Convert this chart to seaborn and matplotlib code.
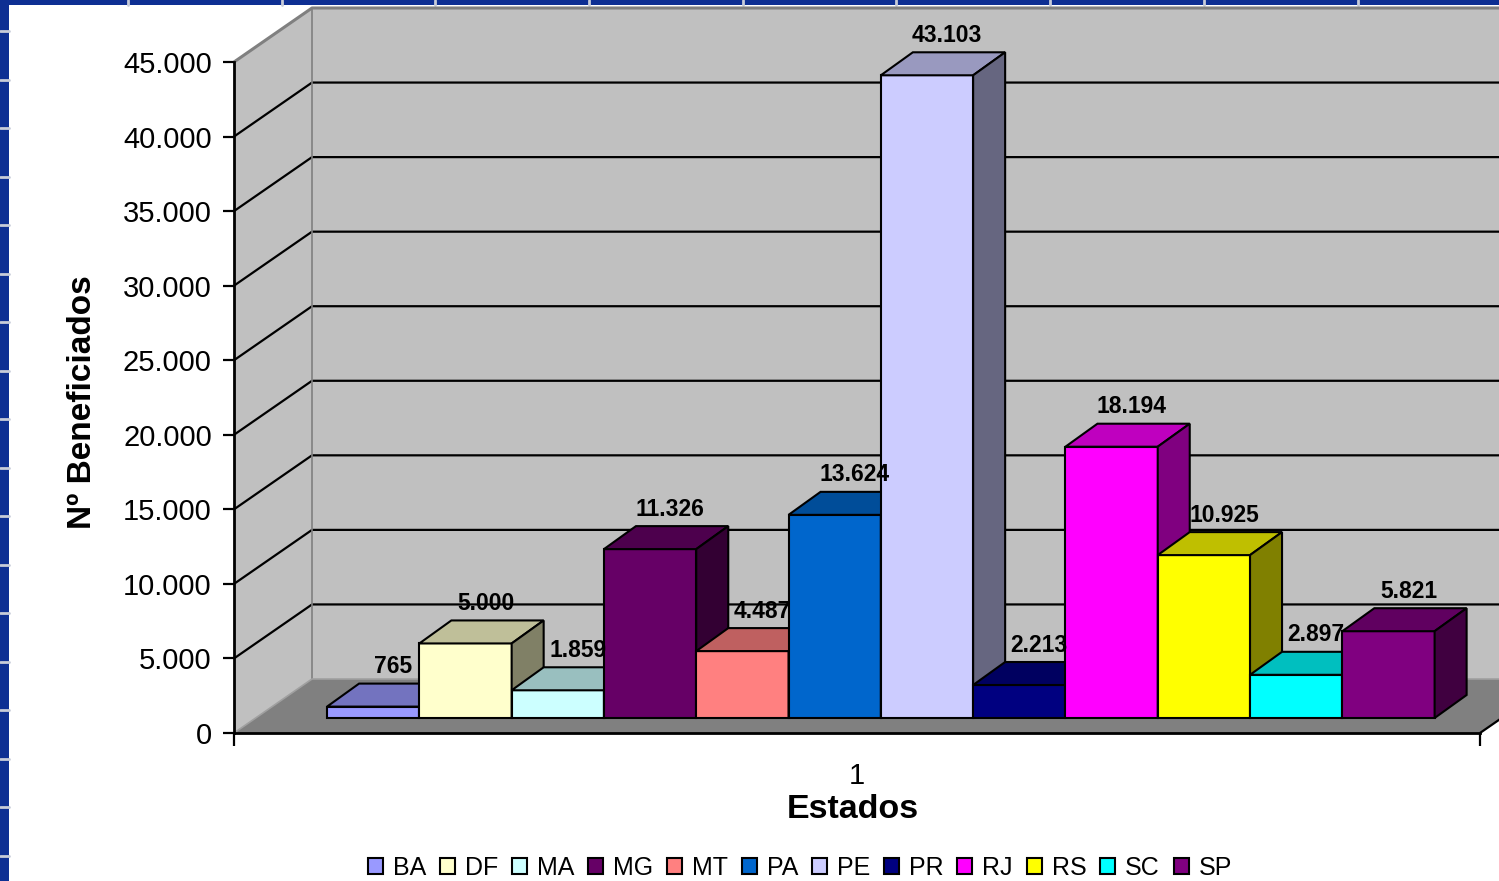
import numpy as np
import pandas as pd
import matplotlib
matplotlib.use("Agg")
import matplotlib.pyplot as plt
import matplotlib.transforms as mtransforms
from matplotlib.patches import Polygon, Patch, Rectangle
from matplotlib.lines import Line2D
from matplotlib.colors import to_rgb
import seaborn as sns

# =====================================================
# Data
# =====================================================
estados = ["BA", "DF", "MA", "MG", "MT", "PA", "PE", "PR", "RJ", "RS", "SC", "SP"]
beneficiados = [765, 5000, 1859, 11326, 4487, 13624, 43103, 2213, 18194, 10925, 2897, 5821]
cores = ["#9999FF", "#FFFFCC", "#CCFFFF", "#660066", "#FF8080", "#0066CC",
         "#CCCCFF", "#000080", "#FF00FF", "#FFFF00", "#00FFFF", "#800080"]
y_ticks = list(range(0, 45001, 5000))
x_label_cat = "1"

df = pd.DataFrame({"estado": estados, "n": beneficiados})


def fmt(v):
    return f"{v:,.0f}".replace(",", ".")


def shade(c, f):
    r, g, b = to_rgb(c)
    return (r * f, g * f, b * f)


# =====================================================
# Layout (pixels)
# =====================================================
W, H, DPI = 1499, 881, 100
AX_L, AX_R, AX_T, AX_B = 234, 1480, 62, 733
X0, X1 = -1.27, 12.23
Y0, Y1 = 0, 45000
px_x = (AX_R - AX_L) / (X1 - X0)
px_y = (AX_B - AX_T) / (Y1 - Y0)
WALL_D = (78, 54)     # depth of the walls/floor
BAR_OFF = (22, 15)    # bars sit a little behind the front plane
BAR_D = (32, 23)      # depth of each bar
LBL_OFF = (20, 40)    # data label offset from bar top

sns.set_theme(style="white")
plt.rcParams["font.family"] = ["Liberation Sans", "DejaVu Sans"]
plt.rcParams["text.color"] = "black"

fig = plt.figure(figsize=(W / DPI, H / DPI), dpi=DPI)
fig.patch.set_facecolor("#0E2F93")
fig.add_artist(Rectangle((9 / W, 0), 1 - 9 / W, (H - 5) / H, transform=fig.transFigure,
                         fc="white", ec="none", zorder=-10))
for yy in np.arange(31, H, 48.5):
    fig.add_artist(Line2D([0, 9 / W], [1 - yy / H] * 2, transform=fig.transFigure,
                          color="#C8CCD8", lw=2, zorder=-9))
for xx in np.arange(128, W, 153.7):
    fig.add_artist(Line2D([xx / W] * 2, [1 - 5 / H, 1], transform=fig.transFigure,
                          color="#C8CCD8", lw=2, zorder=-9))

ax = fig.add_axes([AX_L / W, (H - AX_B) / H, (AX_R - AX_L) / W, (AX_B - AX_T) / H])
ax.set_facecolor("none")

# =====================================================
# Bars (front faces)
# =====================================================
sns.barplot(data=df, x="estado", y="n", hue="estado", palette=cores, width=1,
            saturation=1, edgecolor="black", linewidth=1.5, legend=False, ax=ax)
bars = [p for p in ax.patches if isinstance(p, Rectangle)]
bars = sorted(bars, key=lambda p: p.get_x())

ax.set_xlim(X0, X1)
ax.set_ylim(Y0, Y1)

bar_tr = ax.transData + mtransforms.ScaledTranslation(BAR_OFF[0] / DPI, BAR_OFF[1] / DPI,
                                                      fig.dpi_scale_trans)

# =====================================================
# Walls, floor and gridlines
# =====================================================
DX, DY = WALL_D[0] / px_x, WALL_D[1] / px_y
wall_kw = dict(clip_on=False, ec="none")
ax.add_patch(Polygon([(X0 + DX, DY), (X1 + DX, DY), (X1 + DX, Y1 + DY), (X0 + DX, Y1 + DY)],
                     fc="#C0C0C0", zorder=0.5, **wall_kw))
ax.add_patch(Polygon([(X0, 0), (X0, Y1), (X0 + DX, Y1 + DY), (X0 + DX, DY)],
                     fc="#C0C0C0", zorder=0.5, **wall_kw))
ax.add_patch(Polygon([(X0, 0), (X1, 0), (X1 + DX, DY), (X0 + DX, DY)],
                     fc="#808080", zorder=0.6, **wall_kw))

line_kw = dict(clip_on=False, solid_capstyle="butt")
for yv in y_ticks[1:-1]:
    ax.plot([X0, X0 + DX, X1 + DX], [yv, yv + DY, yv + DY], color="black", lw=1.6,
            zorder=1, **line_kw)
ax.plot([X0, X0 + DX, X1 + DX], [Y1, Y1 + DY, Y1 + DY], color="#808080", lw=2.2,
        zorder=1, **line_kw)
ax.plot([X0 + DX, X0 + DX], [DY, Y1 + DY], color="#808080", lw=1.2, zorder=1, **line_kw)
ax.plot([X0, X0 + DX, X1 + DX], [0, DY, DY], color="#A0A0A0", lw=1.2, zorder=1, **line_kw)
ax.plot([X1, X1 + DX], [0, DY], color="black", lw=1.6, zorder=1, **line_kw)

# =====================================================
# 3D faces for each bar
# =====================================================
ddx, ddy = BAR_D[0] / px_x, BAR_D[1] / px_y
for i, p in enumerate(bars):
    z = 3 + i * 0.1
    p.set_transform(bar_tr)
    p.set_clip_on(False)
    p.set_zorder(z)
    c = cores[i]
    L, R, h = p.get_x(), p.get_x() + p.get_width(), p.get_height()
    face_kw = dict(closed=True, ec="black", lw=1.5, transform=bar_tr, clip_on=False,
                   joinstyle="miter")
    ax.add_patch(Polygon([(L, h), (R, h), (R + ddx, h + ddy), (L + ddx, h + ddy)],
                         fc=shade(c, 0.75), zorder=z + 0.05, **face_kw))
    ax.add_patch(Polygon([(R, 0), (R, h), (R + ddx, h + ddy), (R + ddx, ddy)],
                         fc=shade(c, 0.5), zorder=z + 0.05, **face_kw))
    ax.text((L + R) / 2 + LBL_OFF[0] / px_x, h + LBL_OFF[1] / px_y, fmt(beneficiados[i]),
            transform=bar_tr, ha="center", va="center", fontsize=16.5, fontweight="bold",
            color="black", zorder=10)

# =====================================================
# Axes styling
# =====================================================
for s in ["top", "right"]:
    ax.spines[s].set_visible(False)
for s in ["left", "bottom"]:
    ax.spines[s].set_color("black")
    ax.spines[s].set_linewidth(2)
    ax.spines[s].set_zorder(2)

ax.set_yticks(y_ticks)
ax.set_yticklabels([fmt(v) for v in y_ticks])
ax.tick_params(axis="y", which="major", left=True, length=8, width=1.6, color="black",
               pad=8, labelsize=21, labelcolor="black")
ax.set_xticks([X0, X1])
ax.set_xticklabels(["", ""])
ax.set_xticks([(X0 + X1) / 2], [x_label_cat], minor=True)
ax.tick_params(axis="x", which="major", bottom=True, length=9, width=1.6, color="black")
ax.tick_params(axis="x", which="minor", bottom=True, length=0, pad=21, labelsize=21,
               labelcolor="black")
ax.grid(False)

ax.set_xlabel("Estados", fontsize=24.5, fontweight="bold", color="black")
ax.xaxis.set_label_coords((853 - AX_L) / (AX_R - AX_L), (AX_B - 809) / (AX_B - AX_T))
ax.set_ylabel("Nº Beneficiados", fontsize=24, fontweight="bold", color="black")
ax.yaxis.set_label_coords((82 - AX_L) / (AX_R - AX_L), (AX_B - 402) / (AX_B - AX_T))
ax.xaxis.label.set_va("center")
ax.yaxis.label.set_va("center")

# =====================================================
# Legend
# =====================================================
handles = [Patch(facecolor=c, edgecolor="black", linewidth=1.5) for c in cores]
fig.legend(handles, estados, loc="center", bbox_to_anchor=(800 / W, (H - 868) / H),
           ncol=len(estados), frameon=False, fontsize=18, labelcolor="black",
           handlelength=0.6, handleheight=0.6, handletextpad=0.4, columnspacing=0.55,
           borderaxespad=0, borderpad=0)

fig.savefig("out.png", dpi=DPI, facecolor=fig.get_facecolor())
